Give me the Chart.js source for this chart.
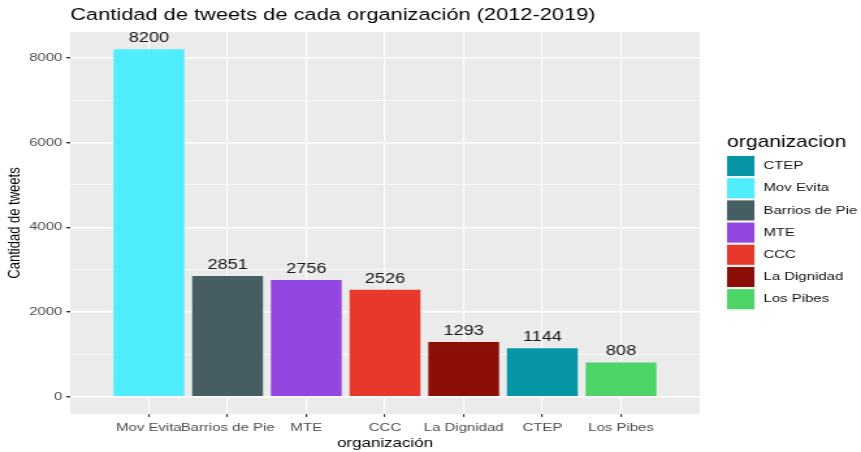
<!DOCTYPE html>
<html>
<head>
<meta charset="utf-8">
<script src="https://cdn.jsdelivr.net/npm/chart.js@4"></script>
<style>
  html, body { margin: 0; padding: 0; background: #fff; overflow: hidden; }
  #chart { display: block; transform: scaleX(1.3006); transform-origin: 0 0; }
</style>
</head>
<body>
<canvas id="chart" width="662" height="452"></canvas>
<script>
const categories = ["Mov Evita", "Barrios de Pie", "MTE", "CCC", "La Dignidad", "CTEP", "Los Pibes"];
const tweets = [8200, 2851, 2756, 2526, 1293, 1144, 808];
const barColors = ["#50EDFF", "#465E62", "#9147E0", "#E8382B", "#8C0F07", "#0595A5", "#4DD466"];
const legendOrder = ["CTEP", "Mov Evita", "Barrios de Pie", "MTE", "CCC", "La Dignidad", "Los Pibes"];
const yTicks = [0, 1000, 2000, 3000, 4000, 5000, 6000, 7000, 8000];

const FONT = "'Liberation Sans', Arial, sans-serif";

// grey panel behind the grid, like ggplot
const panelBg = {
  id: "panelBg",
  beforeDraw(chart) {
    const { ctx, chartArea: a } = chart;
    ctx.save();
    ctx.fillStyle = "#EBEBEB";
    ctx.fillRect(a.left, a.top, a.right - a.left, a.bottom - a.top);
    ctx.restore();
  },
};

// title, value labels and legend
const extras = {
  id: "extras",
  afterDraw(chart) {
    const { ctx, chartArea: a } = chart;
    ctx.save();

    ctx.fillStyle = "#000";
    ctx.font = `16.8px ${FONT}`;
    ctx.textBaseline = "middle";
    ctx.textAlign = "left";
    ctx.fillText("Cantidad de tweets de cada organización (2012-2019)", a.left, 15);

    const meta = chart.getDatasetMeta(0);
    ctx.font = `14px ${FONT}`;
    ctx.fillStyle = "#1A1A1A";
    ctx.textAlign = "center";
    ctx.textBaseline = "alphabetic";
    meta.data.forEach((bar, i) => {
      ctx.fillText(String(tweets[i]), bar.x, bar.y - 7);
    });

    // legend
    const lx = 559;
    ctx.textAlign = "left";
    ctx.textBaseline = "middle";
    ctx.fillStyle = "#000";
    ctx.font = `16.2px ${FONT}`;
    ctx.fillText("organizacion", lx, 143);
    ctx.font = `11.5px ${FONT}`;
    legendOrder.forEach((name, i) => {
      const top = 156 + i * 22.2;
      ctx.fillStyle = "#F2F2F2";
      ctx.fillRect(lx - 0.5, top - 1, 22, 22);
      ctx.fillStyle = barColors[categories.indexOf(name)];
      ctx.fillRect(lx, top, 21, 20);
      ctx.fillStyle = "#111111";
      ctx.fillText(name, lx + 28, top + 10);
    });
    ctx.restore();
  },
};

new Chart(document.querySelector("#chart"), {
  type: "bar",
  data: {
    datasets: [
      {
        data: tweets.map((v, i) => ({ x: i + 1, y: v })),
        backgroundColor: barColors,
        borderWidth: 0,
        barPercentage: 0.9,
        categoryPercentage: 1,
      },
    ],
  },
  options: {
    responsive: false,
    animation: false,
    layout: { padding: { left: 0, top: 32, right: 124, bottom: 0 } },
    plugins: { legend: { display: false }, title: { display: false }, tooltip: { enabled: false } },
    scales: {
      x: {
        type: "linear",
        min: 0,
        max: 8,
        offset: false,
        afterBuildTicks: (scale) => { scale.ticks = categories.map((c, i) => ({ value: i + 1 })); },
        afterFit: (scale) => { scale.height = 38; },
        grid: { offset: false, color: "#FFFFFF", lineWidth: 1.1, tickColor: "#333333", tickLength: 3 },
        border: { display: false },
        ticks: {
          autoSkip: false,
          maxRotation: 0,
          padding: 3.5,
          color: "#4D4D4D",
          font: { family: FONT, size: 11.5 },
          callback: (value) => categories[value - 1] ?? "",
        },
        title: {
          display: true,
          text: "organización",
          color: "#000",
          font: { family: FONT, size: 13 },
          padding: { top: 0, bottom: 1 },
        },
      },
      y: {
        min: -410,
        max: 8610,
        afterBuildTicks: (scale) => { scale.ticks = yTicks.map((v) => ({ value: v })); },
        afterFit: (scale) => { scale.width = 54; },
        grid: {
          color: "#FFFFFF",
          lineWidth: (ctx) => (ctx.tick && ctx.tick.value % 2000 ? 0.7 : 1.4),
          tickColor: (ctx) => (ctx.tick && ctx.tick.value % 2000 ? "rgba(0,0,0,0)" : "#333333"),
          tickLength: 3,
        },
        border: { display: false },
        ticks: {
          autoSkip: false,
          padding: 3,
          color: "#4D4D4D",
          font: { family: FONT, size: 11.5 },
          callback: (value) => (value % 2000 ? "" : String(value)),
        },
        title: {
          display: true,
          text: "Cantidad de tweets",
          color: "#000",
          font: { family: FONT, size: 13 },
          padding: { top: 4, bottom: 0 },
        },
      },
    },
  },
  plugins: [panelBg, extras],
});
</script>
</body>
</html>
